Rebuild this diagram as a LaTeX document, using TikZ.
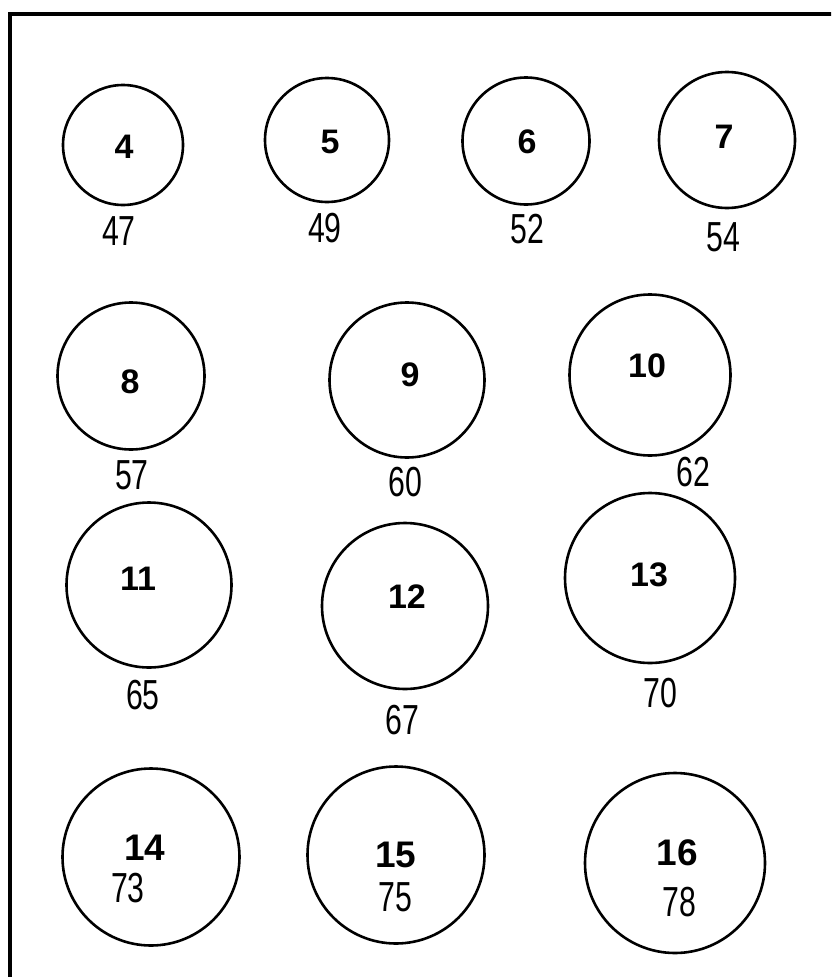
\documentclass[tikz,border=0pt]{standalone}
\usepackage{fontspec}
\setmainfont{Liberation Sans}
\newfontfamily\narrowfont[FakeStretch=0.72]{Liberation Sans}
\tikzset{
  ring/.style={circle,draw=black,line width=2.6pt,inner sep=0pt},
  idlab/.style={inner sep=0pt,font=\fontsize{34}{34}\selectfont\bfseries},
  idbig/.style={inner sep=0pt,font=\fontsize{37}{37}\selectfont\bfseries},
  vallab/.style={inner sep=0pt,font=\narrowfont\fontsize{42}{42}\selectfont}
}
\begin{document}
\begin{tikzpicture}[x=1pt,y=-1pt]
\useasboundingbox (0,0) rectangle (831,977);
\clip (0,0) rectangle (831,977);
\fill[white] (0,0) rectangle (831,977);
\draw[line width=4.5pt] (10,1000) -- (10,14) -- (850,14);
% row 1
\node[ring,minimum size=120pt] (c4) at (123,145) {};
\node[ring,minimum size=124pt] (c5) at (327,140) {};
\node[ring,minimum size=127pt] (c6) at (526,141) {};
\node[ring,minimum size=136pt] (c7) at (727,140) {};
\node[idlab] (t4) at (124,147) {4};
\node[idlab] (t5) at (330,142) {5};
\node[idlab] (t6) at (527,142) {6};
\node[idlab] (t7) at (724,137) {7};
\node[vallab] (v4) at (119,231) {47};
\node[vallab] (v5) at (325,228) {49};
\node[vallab] (v6) at (527,229) {52};
\node[vallab] (v7) at (723,237) {54};
% row 2
\node[ring,minimum size=147pt] (c8) at (131,376) {};
\node[ring,minimum size=155pt] (c9) at (407,380) {};
\node[ring,minimum size=161pt] (c10) at (650,375) {};
\node[idlab] (t8) at (130,382) {8};
\node[idlab] (t9) at (410,375) {9};
\node[idlab] (t10) at (647,366) {10};
\node[vallab] (v8) at (132,475) {57};
\node[vallab] (v9) at (405,482) {60};
\node[vallab] (v10) at (693,472) {62};
% row 3
\node[ring,minimum size=165pt] (c11) at (149,585) {};
\node[ring,minimum size=166pt] (c12) at (405,606) {};
\node[ring,minimum size=170pt] (c13) at (650,578) {};
\node[idlab] (t11) at (138,579) {11};
\node[idlab] (t12) at (407,597) {12};
\node[idlab] (t13) at (649,575) {13};
\node[vallab] (v11) at (143,695) {65};
\node[vallab] (v12) at (402,720) {67};
\node[vallab] (v13) at (660,693) {70};
% row 4
\node[ring,minimum size=177pt] (c14) at (151,857) {};
\node[ring,minimum size=177pt] (c15) at (396,855) {};
\node[ring,minimum size=180pt] (c16) at (675,863) {};
\node[idbig] (t14) at (145,848) {14};
\node[idbig] (t15) at (396,855) {15};
\node[idbig] (t16) at (677,853) {16};
\node[vallab] (v14) at (128,888) {73};
\node[vallab] (v15) at (395,897) {75};
\node[vallab] (v16) at (679,902) {78};
\end{tikzpicture}
\end{document}
